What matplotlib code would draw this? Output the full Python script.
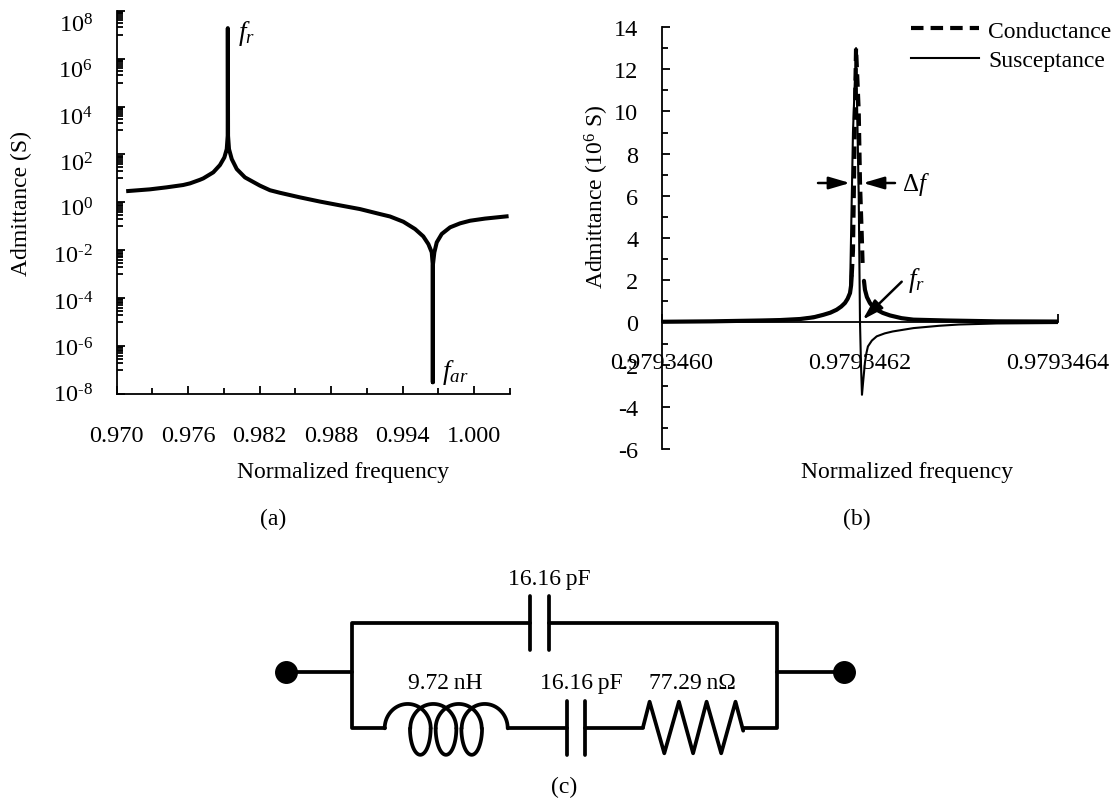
import numpy as np
import matplotlib
matplotlib.use('Agg')
import matplotlib.pyplot as plt
from matplotlib.ticker import NullFormatter
from matplotlib.transforms import ScaledTranslation

plt.rcParams['font.family'] = ['Liberation Serif', 'DejaVu Sans']
plt.rcParams['mathtext.fontset'] = 'custom'
plt.rcParams['mathtext.rm'] = 'Liberation Serif'
plt.rcParams['mathtext.it'] = 'Liberation Serif:italic'
plt.rcParams['axes.unicode_minus'] = False
plt.rcParams['font.size'] = 17

# (a) admittance magnitude
freq_a = [0.97098, 0.97280, 0.97420, 0.97559, 0.97617, 0.97699, 0.97728, 0.97812, 0.97868,
          0.97905, 0.97925, 0.97933, 0.97934, 0.97936, 0.97944, 0.97967, 0.98009, 0.98078,
          0.98203, 0.98288, 0.98371, 0.98538, 0.98706, 0.98874, 0.99042, 0.99210, 0.99295,
          0.99407, 0.99505, 0.99574, 0.99617, 0.99645, 0.99654, 0.99654, 0.99654, 0.99667,
          0.99687, 0.99729, 0.99799, 0.99883, 0.99967, 1.00092, 1.00273]
adm_a = [2.97, 3.49, 4.23, 5.29, 6.2, 8.7, 10.0, 17.9, 36,
         75, 167, 600, 1.87e7, 600, 167, 64, 24.5, 11,
         5.0, 3.2, 2.51, 1.62, 1.08, 0.75, 0.525, 0.325, 0.257,
         0.155, 0.077, 0.038, 0.018, 0.0082, 0.00226, 3.1e-8, 0.00226, 0.0082,
         0.0214, 0.048, 0.0906, 0.133, 0.171, 0.21, 0.26]
y_ticks_a = [1e-8, 1e-6, 1e-4, 1e-2, 1e0, 1e2, 1e4, 1e6, 1e8]
y_labels_a = ['10$^{\\mathrm{\\text{-}8}}$', '10$^{\\mathrm{\\text{-}6}}$', '10$^{\\mathrm{\\text{-}4}}$',
              '10$^{\\mathrm{\\text{-}2}}$', '10$^{0}$', '10$^{2}$', '10$^{4}$', '10$^{6}$', '10$^{8}$']
y_minor_a = [k * 10.0 ** e for e in [-7, -5, -3, -1, 1, 3, 5, 7] for k in range(1, 10)]
x_ticks_a = [0.970, 0.976, 0.982, 0.988, 0.994, 1.000]
x_minor_a = [0.973, 0.979, 0.985, 0.991, 0.997, 1.003]
x_labels_a = ['0.970', '0.976', '0.982', '0.988', '0.994', '1.000']

# (b) conductance, in 1e6 S
g_left_f = [0.9793460000, 0.9793460500, 0.9793461000, 0.9793461192, 0.9793461394, 0.9793461530,
            0.9793461630, 0.9793461700, 0.9793461764, 0.9793461810, 0.9793461848, 0.9793461875,
            0.9793461899, 0.9793461910, 0.9793461916]
g_left = [0.03, 0.05, 0.09, 0.11, 0.16, 0.24, 0.36, 0.46, 0.60, 0.75, 0.92, 1.12, 1.39, 1.75, 2.18]
g_peak_f = [0.9793461916, 0.9793461929, 0.9793461939, 0.9793461949, 0.9793461960,
            0.9793461987, 0.9793462000, 0.9793462017, 0.9793462027]
g_peak = [2.18, 3.4, 6.6, 10.0, 13.0, 10.0, 6.6, 4.2, 2.65]
g_right_f = [0.9793462040, 0.9793462050, 0.9793462070, 0.9793462100, 0.9793462130, 0.9793462169,
             0.9793462230, 0.9793462303, 0.9793462420, 0.9793462540, 0.9793462875, 0.9793463380,
             0.9793464000]
g_right = [1.97, 1.55, 1.20, 0.92, 0.74, 0.60, 0.45, 0.33, 0.20, 0.13, 0.09, 0.05, 0.04]

# (b) susceptance, in 1e6 S
b_f = [0.9793460000, 0.9793461000, 0.9793461394, 0.9793461630, 0.9793461764, 0.9793461848,
       0.9793461899, 0.9793461929, 0.9793461960, 0.9793461987, 0.9793462000, 0.9793462010,
       0.9793462020, 0.9793462030, 0.9793462050, 0.9793462065, 0.9793462080, 0.9793462120,
       0.9793462169, 0.9793462250, 0.9793462330, 0.9793462540, 0.9793462800, 0.9793463000,
       0.9793463380, 0.9793464000]
b_v = [0.02, 0.09, 0.16, 0.36, 0.60, 0.92, 1.39, 9.0, 13.0, 6.0, 0.0, -2.0,
       -3.43, -2.9, -1.9, -1.45, -1.14, -0.86, -0.66, -0.52, -0.43, -0.27, -0.16, -0.10,
       -0.05, -0.03]
x_ticks_b = [0.9793460, 0.9793462, 0.9793464]
x_labels_b = ['0.9793460', '0.9793462', '0.9793464']
y_ticks_b = [-6, -4, -2, 0, 2, 4, 6, 8, 10, 12, 14]
y_minor_b = [-5, -3, -1, 1, 3, 5, 7, 9, 11, 13]
y_labels_b = ['-6', '-4', '-2', '0', '2', '4', '6', '8', '10', '12', '14']

W, H = 1115.0, 804.0


def axes_px(x0, x1, y_top, y_bottom):
    return fig.add_axes([x0 / W, 1 - y_bottom / H, (x1 - x0) / W, (y_bottom - y_top) / H])


fig = plt.figure(figsize=(11.15, 8.04), dpi=100)

# panel a
ax = axes_px(116.5, 509.8, 11.7, 395)
ax.plot(freq_a, adm_a, color='k', lw=2.9, solid_joinstyle='round')
ax.set_yscale('log')
ax.set_xlim(0.970, 1.003)
ax.set_ylim(1e-8, 1e8)
ax.set_xticks(x_ticks_a)
ax.set_xticklabels(x_labels_a)
ax.set_xticks(x_minor_a, minor=True)
ax.set_yticks(y_ticks_a)
ax.set_yticklabels(y_labels_a)
ax.set_yticks(y_minor_a, minor=True)
ax.yaxis.set_minor_formatter(NullFormatter())
ax.spines['top'].set_visible(False)
ax.spines['right'].set_visible(False)
ax.tick_params(which='major', direction='in', length=5.5, width=1.3, labelsize=17.5)
ax.tick_params(which='minor', direction='in', length=4, width=1.3)
ax.tick_params(axis='x', pad=22)
ax.tick_params(axis='y', pad=17)
for s in ax.spines.values():
    s.set_linewidth(1.3)
# the decade labels sit a little off their ticks in the original
for lbl, dy in zip(ax.get_yticklabels(), [-2, 0, 2, 3, 4, 7, 8.7, 10, 11.6]):
    lbl.set_transform(lbl.get_transform() + ScaledTranslation(0, -dy / 100, fig.dpi_scale_trans))

# panel b
bx = axes_px(662, 1058, 28, 450)
bx.plot(g_left_f, g_left, color='k', lw=3, solid_capstyle='round')
bx.plot(g_peak_f, g_peak, color='k', lw=3, dashes=(3, 1.7), label='Conductance')
bx.plot(g_right_f, g_right, color='k', lw=3, solid_capstyle='round')
bx.plot(b_f, b_v, color='k', lw=1.5, label='Susceptance')
bx.set_xlim(0.9793460, 0.9793464)
bx.set_ylim(-6, 14)
bx.set_xticks(x_ticks_b)
bx.set_xticklabels(x_labels_b)
bx.set_yticks(y_ticks_b)
bx.set_yticklabels(y_labels_b)
bx.set_yticks(y_minor_b, minor=True)
bx.spines['top'].set_visible(False)
bx.spines['right'].set_visible(False)
bx.spines['bottom'].set_position(('data', 0))
bx.tick_params(which='major', direction='in', length=5.5, width=1.3, labelsize=17.5)
bx.tick_params(which='minor', direction='in', length=4, width=1.3)
bx.tick_params(axis='x', pad=21.5)
bx.tick_params(axis='y', pad=17)
for s in bx.spines.values():
    s.set_linewidth(1.3)
bx.legend(loc='upper left', bbox_to_anchor=(911 / W, 1 - 21 / H), bbox_transform=fig.transFigure,
          frameon=False, handlelength=2.9, handletextpad=0.38, labelspacing=0.33,
          borderpad=0, borderaxespad=0, fontsize=17)

# overlay in pixel coordinates: labels, arrows, circuit
ov = fig.add_axes([0, 0, 1, 1])
ov.set_xlim(0, W)
ov.set_ylim(H, 0)
ov.axis('off')
ov.patch.set_alpha(0)


def txt(x, y, s, **kw):
    ov.text(x, y, s, ha='center', va='center', **kw)


txt(21.7, 204, 'Admittance (S)', rotation=90)
txt(343, 472.5, 'Normalized frequency')
txt(597, 197, 'Admittance (10$^{6}$ S)', rotation=90)
txt(907, 472.5, 'Normalized frequency')
txt(273, 519, '(a)')
txt(857, 519, '(b)')
txt(564, 787, '(c)')
txt(246, 33, '$f_r$', fontsize=19.5)
txt(455, 373, '$f_{ar}$', fontsize=19.5)
txt(916, 184, '\u0394$f$', fontsize=18)
txt(916, 281, '$f_r$', fontsize=19.5)

arrow = dict(arrowstyle='-|>,head_length=0.75,head_width=0.22', color='k', lw=1.8,
             shrinkA=0, shrinkB=0, mutation_scale=17)
ov.annotate('', xy=(850, 184), xytext=(818, 184), arrowprops=arrow)
ov.annotate('', xy=(863, 184), xytext=(895, 184), arrowprops=arrow)
ov.annotate('', xy=(862.7, 320.7), xytext=(901.7, 282.7), arrowprops=arrow)

# circuit
lw_c = 2.7
wire = dict(color='k', lw=lw_c, solid_capstyle='round', solid_joinstyle='round')


def seg(xs, ys):
    ov.plot(xs, ys, **wire)


def arc(cx, cy, w, h, t0, t1):
    t = np.radians(np.linspace(t0, t1, 60))
    seg(cx + w / 2 * np.cos(t), cy + h / 2 * np.sin(t))


y_top, y_bot, y_mid = 624.3, 729.3, 672.7
x_l, x_r = 351.7, 777
seg([286, x_l], [y_mid, y_mid])
seg([x_r, 844], [y_mid, y_mid])
seg([530, x_l, x_l, 385], [y_top, y_top, y_bot, y_bot])
seg([548.5, x_r, x_r, 743.2], [y_top, y_top, y_bot, y_bot])
seg([530, 530], [597, 651])
seg([548.5, 548.5], [597, 651])
seg([566.8, 566.8], [702, 756])
seg([585, 585], [702, 756])
seg([507.7, 566.8], [y_bot, y_bot])
seg([585, 643], [y_bot, y_bot])
seg([643, 649.6, 664.3, 678.9, 693.1, 706.6, 721.2, 735.5, 743.2],
    [728.3, 702.7, 754.3, 702.7, 754.3, 702.7, 754.3, 702.7, 731.7])
for cx in [407.7, 433.3, 458.7, 484.7]:
    arc(cx, y_bot, 46, 48.7, 180, 360)
for cx in [420.3, 446, 471.7]:
    arc(cx, y_bot, 20.7, 53, 0, 180)
ov.plot([286, 844], [y_mid, y_mid], ls='none', marker='o', ms=15.5, color='k')
txt(549, 580, '16.16\u2009pF')
txt(445, 684, '9.72\u2009nH')
txt(581.5, 684, '16.16\u2009pF')
txt(692, 684, '77.29\u2009n\u03a9')

fig.savefig('out.png', dpi=100)
